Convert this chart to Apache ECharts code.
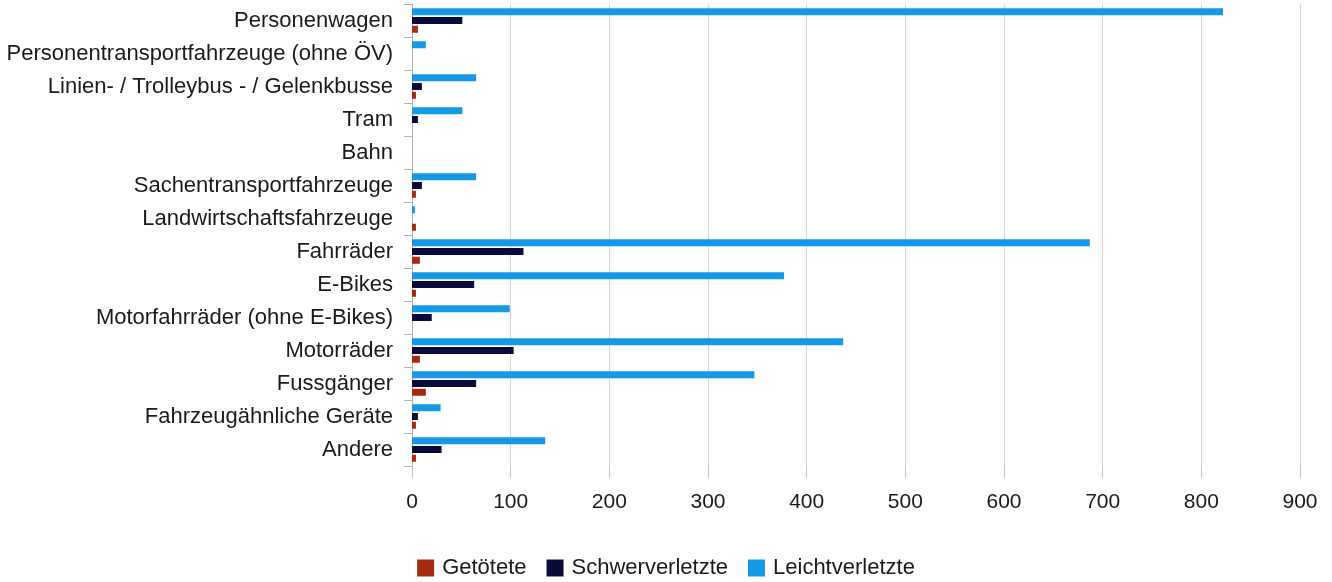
<!DOCTYPE html>
<html>
<head>
<meta charset="utf-8">
<script src="https://cdn.jsdelivr.net/npm/echarts@6/dist/echarts.min.js"></script>
<style>
html,body{margin:0;padding:0;background:#fff;}
#chart{width:1332px;height:582px;}
</style>
</head>
<body>
<div id="chart"></div>
<script>
var categories = [
  'Personenwagen',
  'Personentransportfahrzeuge (ohne ÖV)',
  'Linien- / Trolleybus - / Gelenkbusse',
  'Tram',
  'Bahn',
  'Sachentransportfahrzeuge',
  'Landwirtschaftsfahrzeuge',
  'Fahrräder',
  'E-Bikes',
  'Motorfahrräder (ohne E-Bikes)',
  'Motorräder',
  'Fussgänger',
  'Fahrzeugähnliche Geräte',
  'Andere'
];
var getoetete       = [6, 0, 4, 0, 0, 4, 4, 8, 4, 0, 8, 14, 4, 4];
var schwerverletzte = [51, 0, 10, 6, 0, 10, 0, 113, 63, 20, 103, 65, 6, 30];
var leichtverletzte = [822, 14, 65, 51, 0, 65, 3, 687, 377, 99, 437, 347, 29, 135];
var seriesNames = ['Getötete', 'Schwerverletzte', 'Leichtverletzte'];
var xTicks = [0, 100, 200, 300, 400, 500, 600, 700, 800, 900];

var colors = ['#A52A10', '#0B0B3B', '#1599E6'];
var font = 'Liberation Sans, Arial, sans-serif';

var chart = echarts.init(document.getElementById('chart'), null, {renderer: 'canvas'});
var data = [getoetete, schwerverletzte, leichtverletzte];
var series = [2, 1, 0].map(function (i) {
  return {
    name: seriesNames[i],
    type: 'bar',
    data: data[i],
    barWidth: 7,
    barGap: '25%',
    itemStyle: {color: colors[i]}
  };
});

chart.setOption({
  animation: false,
  color: colors,
  grid: {left: 412, right: 32, top: 4, bottom: 116, containLabel: false},
  legend: {
    data: seriesNames,
    bottom: -2,
    left: 'center',
    itemWidth: 17,
    itemHeight: 17,
    itemGap: 20,
    icon: 'rect',
    textStyle: {fontFamily: font, fontSize: 22, color: '#1a1a1a', padding: [0, 0, 0, 3]}
  },
  xAxis: {
    type: 'value',
    min: xTicks[0],
    max: xTicks[xTicks.length - 1],
    interval: 100,
    axisLine: {show: false},
    axisTick: {show: true, length: 12, lineStyle: {color: '#c4c4c4', width: 1}},
    splitLine: {show: true, lineStyle: {color: '#d6d6d6', width: 1}},
    axisLabel: {fontFamily: font, fontSize: 21, color: '#1a1a1a', margin: 26}
  },
  yAxis: {
    type: 'category',
    inverse: true,
    data: categories,
    axisLine: {show: true, lineStyle: {color: '#b3b3b3', width: 1}},
    axisTick: {show: true, length: 8, lineStyle: {color: '#b3b3b3'}},
    axisLabel: {fontFamily: font, fontSize: 22, color: '#1a1a1a', margin: 19}
  },
  series: series
});
</script>
</body>
</html>
